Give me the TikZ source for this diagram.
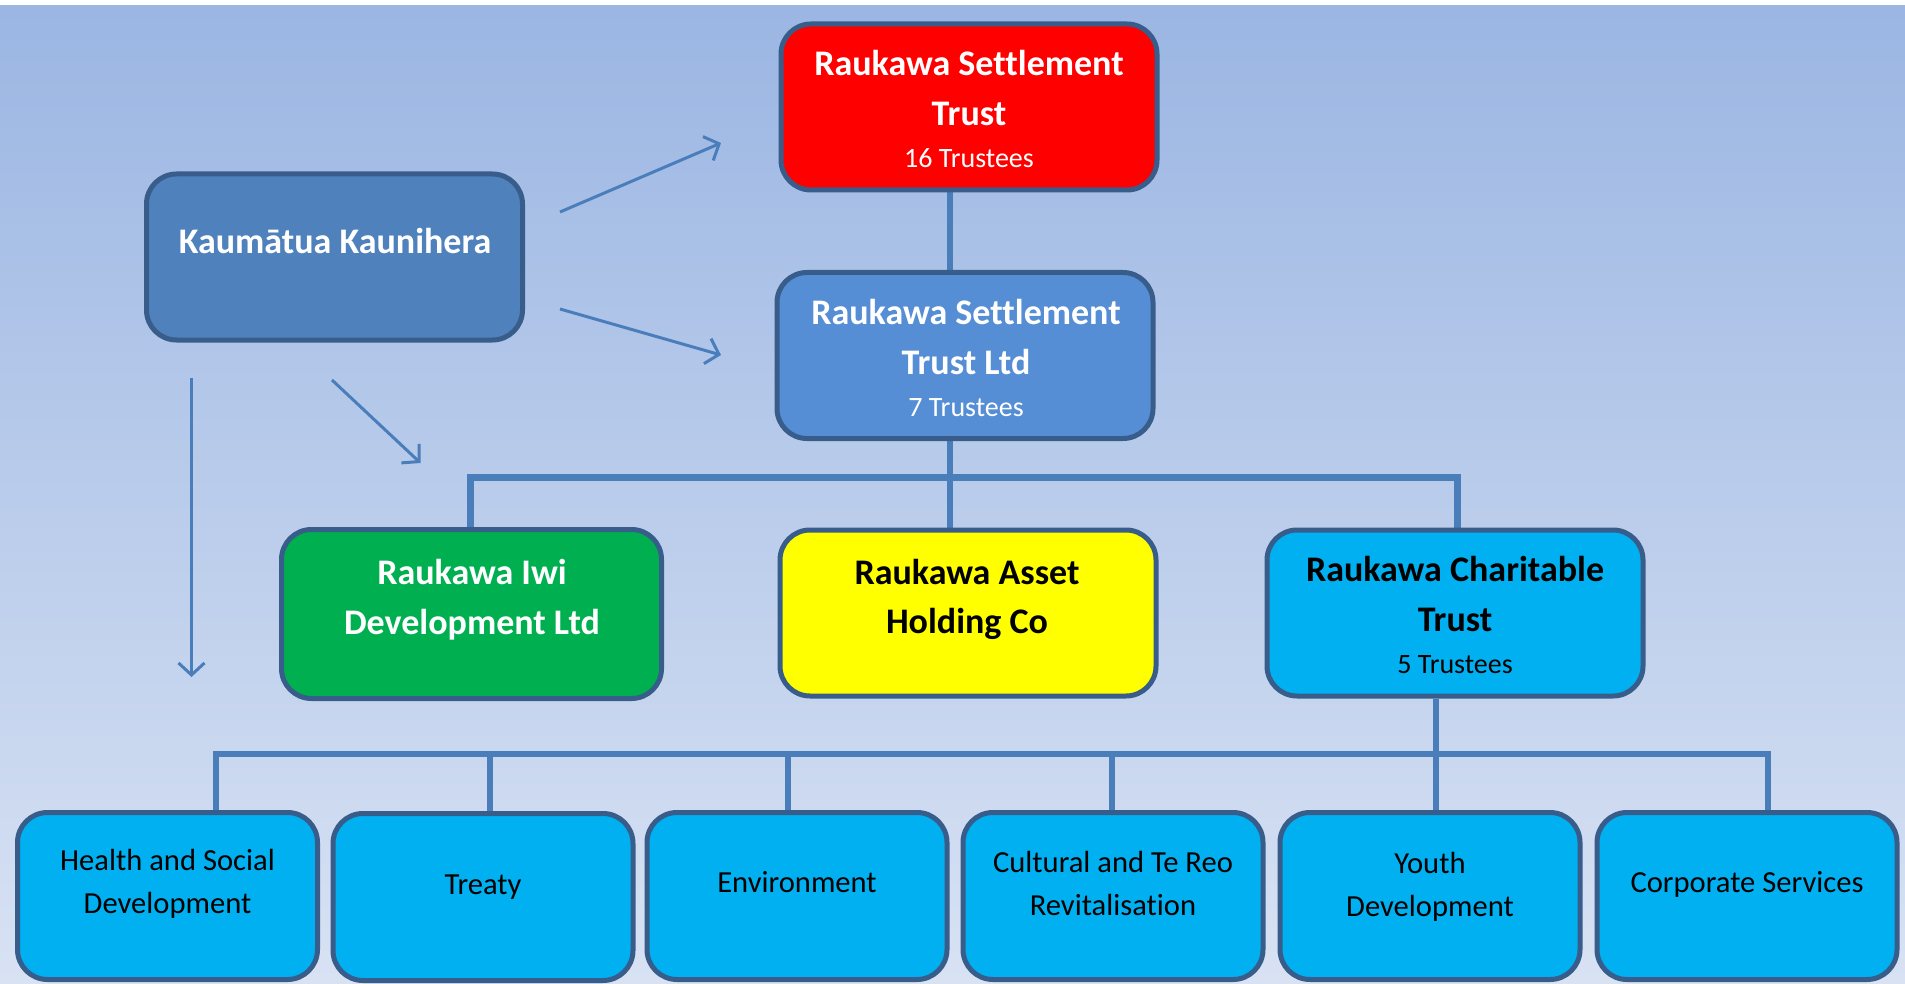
\documentclass[tikz,border=0pt]{standalone}
\usepackage{fontspec}
\setmainfont{Carlito}[Ligatures=NoCommon]
\usetikzlibrary{arrows.meta}
\pgfdeclarelayer{back}
\pgfdeclarelayer{mid}
\pgfsetlayers{back,mid,main}
\definecolor{bgtop}{RGB}{155,182,227}
\definecolor{bgbot}{RGB}{216,226,243}
\definecolor{boxline}{RGB}{56,93,138}
\definecolor{conn}{RGB}{74,126,187}
\definecolor{kkfill}{RGB}{79,129,189}
\definecolor{ltdfill}{RGB}{85,142,213}
\definecolor{redfill}{RGB}{255,0,0}
\definecolor{greenfill}{RGB}{0,176,80}
\definecolor{yellowfill}{RGB}{255,255,0}
\definecolor{cyanfill}{RGB}{0,176,240}
\tikzset{
  orgbox/.style={draw=boxline, line width=2.5pt, rounded corners=15pt,
    minimum width=188pt, minimum height=83pt, inner sep=0pt},
  subbox/.style={orgbox, fill=cyanfill, minimum width=150pt, minimum height=83.5pt},
  bigtxt/.style={anchor=base, inner sep=0pt, font=\fontsize{18}{20}\selectfont\bfseries},
  smalltxt/.style={anchor=base, inner sep=0pt, font=\fontsize{14}{16}\selectfont},
  subtxt/.style={anchor=base, inner sep=0pt, font=\fontsize{15.3}{17}\selectfont, text=black},
  busline/.style={draw=conn, line width=3pt},
  topbus/.style={draw=conn, line width=3.5pt},
  arrowline/.style={draw=conn, line width=1.5pt, -{Straight Barb[length=6pt,width=13pt]}}
}
\begin{document}
\begin{tikzpicture}[x=0.5pt,y=-0.5pt]
\useasboundingbox (0,0) rectangle (1905,984);
\begin{pgfonlayer}{back}
\fill[white] (0,0) rectangle (1905,984);
\shade[top color=bgtop,bottom color=bgbot] (0,6) rectangle (1905,984);
\end{pgfonlayer}

% boxes
\node[orgbox, fill=redfill] (rst) at (969,107) {};
\node[orgbox, fill=kkfill] (kk) at (334.5,257) {};
\node[orgbox, fill=ltdfill] (rstl) at (965,355.5) {};
\node[orgbox, fill=greenfill, minimum width=190pt, minimum height=84.5pt] (iwi) at (471.5,614) {};
\node[orgbox, fill=yellowfill] (asset) at (968,613) {};
\node[orgbox, fill=cyanfill] (char) at (1455,613) {};

\node[subbox] (health) at (167.5,896) {};
\node[subbox] (treaty) at (483,897) {};
\node[subbox] (env) at (797,896) {};
\node[subbox] (cult) at (1113,896) {};
\node[subbox] (youth) at (1430,896) {};
\node[subbox] (corp) at (1747,896) {};

% texts
\node[bigtxt, text=white] (rst1) at (969,76) {Raukawa Settlement};
\node[bigtxt, text=white] (rst2) at (969,126) {Trust};
\node[smalltxt, text=white] (rst3) at (969,168) {16 Trustees};

\node[bigtxt, text=white] (kk1) at (335,254) {Kaumātua Kaunihera};

\node[bigtxt, text=white] (rstl1) at (966,324) {Raukawa Settlement};
\node[bigtxt, text=white] (rstl2) at (966,374) {Trust Ltd};
\node[smalltxt, text=white] (rstl3) at (966,416) {7 Trustees};

\node[bigtxt, text=white] (iwi1) at (472,584) {Raukawa Iwi};
\node[bigtxt, text=white] (iwi2) at (472,634) {Development Ltd};

\node[bigtxt, text=black] (asset1) at (967,584) {Raukawa Asset};
\node[bigtxt, text=black] (asset2) at (967,633) {Holding Co};

\node[bigtxt, text=black] (char1) at (1455,581) {Raukawa Charitable};
\node[bigtxt, text=black] (char2) at (1455,631) {Trust};
\node[smalltxt, text=black] (char3) at (1455,673) {5 Trustees};

\node[subtxt] (health1) at (167.5,870) {Health and Social};
\node[subtxt] (health2) at (167.5,913) {Development};
\node[subtxt] (treaty1) at (483,894) {Treaty};
\node[subtxt] (env1) at (797,892) {Environment};
\node[subtxt] (cult1) at (1113,872) {Cultural and Te Reo};
\node[subtxt] (cult2) at (1113,915) {Revitalisation};
\node[subtxt] (youth1) at (1430,873) {Youth};
\node[subtxt] (youth2) at (1430,916) {Development};
\node[subtxt] (corp1) at (1747,892) {Corporate Services};

% helper coordinates
\coordinate (cx) at (950,0);
\coordinate (bus1) at (0,477);
\coordinate (iwix) at (470,0);
\coordinate (charx) at (1457,0);
\coordinate (chardx) at (1436,0);
\coordinate (bus2) at (0,754);
\coordinate (d1) at (216,0);
\coordinate (d2) at (490,0);
\coordinate (d3) at (788,0);
\coordinate (d4) at (1112,0);
\coordinate (d5) at (1436,0);
\coordinate (d6) at (1768,0);

\coordinate (a1s) at (560,212);
\coordinate (a1e) at (721,143);
\coordinate (a2s) at (560,309);
\coordinate (a2e) at (721,355);
\coordinate (a3s) at (332,380);
\coordinate (a3e) at (420.5,463);
\coordinate (a4s) at (191.5,378);
\coordinate (a4e) at (191.5,677);

\begin{pgfonlayer}{mid}
\draw[busline] (cx |- rst.south) -- (cx |- rstl.north);
\draw[busline] (cx |- rstl.south) -- (cx |- bus1);
\draw[topbus] (iwix |- iwi.north) -- (iwix |- bus1) -- (charx |- bus1) -- (charx |- char.north);
\draw[busline] (cx |- bus1) -- (cx |- asset.north);

\draw[busline] (chardx |- char.south) -- (chardx |- bus2);
\draw[busline] (d1 |- health.north) -- (d1 |- bus2) -- (d6 |- bus2) -- (d6 |- corp.north);
\draw[busline] (d2 |- bus2) -- (d2 |- treaty.north);
\draw[busline] (d3 |- bus2) -- (d3 |- env.north);
\draw[busline] (d4 |- bus2) -- (d4 |- cult.north);
\draw[busline] (d5 |- bus2) -- (d5 |- youth.north);
\end{pgfonlayer}

\draw[arrowline] (a1s) -- (a1e);
\draw[arrowline] (a2s) -- (a2e);
\draw[arrowline] (a3s) -- (a3e);
\draw[arrowline] (a4s) -- (a4e);
\end{tikzpicture}
\end{document}
